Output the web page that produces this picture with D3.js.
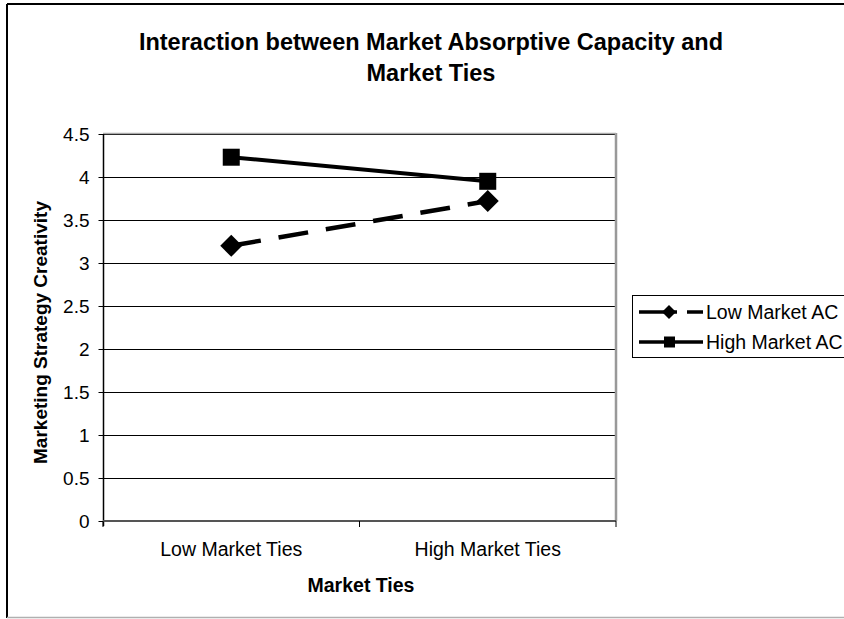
<!DOCTYPE html>
<html><head><meta charset="utf-8">
<script src="https://cdn.jsdelivr.net/npm/d3@7"></script>
<style>body{margin:0;background:#fff}svg{display:block}text{font-family:"Liberation Sans",Arial,sans-serif;fill:#000}</style>
</head><body>
<script>
const categories = ["Low Market Ties", "High Market Ties"];
const seriesNames = ["Low Market AC", "High Market AC"];
const lowMarketAC = [3.20, 3.72];
const highMarketAC = [4.23, 3.95];
const yTicks = [0, 0.5, 1, 1.5, 2, 2.5, 3, 3.5, 4, 4.5];
const yTickLabels = ["0", "0.5", "1", "1.5", "2", "2.5", "3", "3.5", "4", "4.5"];
const titleLines = ["Interaction between Market Absorptive Capacity and", "Market Ties"];
const xTitle = "Market Ties";
const yTitle = "Marketing Strategy Creativity";

const W = 844, H = 619;
const svg = d3.select("body").append("svg").attr("width", W).attr("height", H);

// chart frame
svg.append("line").attr("x1", 7).attr("x2", W).attr("y1", 4).attr("y2", 4).attr("stroke", "#000").attr("stroke-width", 2);
svg.append("line").attr("x1", 7).attr("x2", 7).attr("y1", 4).attr("y2", 618).attr("stroke", "#000").attr("stroke-width", 2);
svg.append("line").attr("x1", 7).attr("x2", W).attr("y1", 617.5).attr("y2", 617.5).attr("stroke", "#b0b0b0").attr("stroke-width", 1.5);

const L = 103, R = 616, T = 134, B = 521;
const x = d3.scaleBand().domain(categories).range([L, R]).padding(0);
const y = d3.scaleLinear().domain([0, 4.5]).range([B, T]);

// gridlines
svg.append("g").selectAll("line").data(yTicks.filter(d => d > 0)).join("line")
  .attr("x1", L).attr("x2", R).attr("y1", d => Math.round(y(d)) + 0.5).attr("y2", d => Math.round(y(d)) + 0.5)
  .attr("stroke", "#000").attr("stroke-width", 1);
// right/top border of plot area
svg.append("line").attr("x1", R).attr("x2", R).attr("y1", T - 1).attr("y2", B).attr("stroke", "#999").attr("stroke-width", 2.5);
svg.append("line").attr("x1", L).attr("x2", R).attr("y1", T - 0.5).attr("y2", T - 0.5).attr("stroke", "#aaa").attr("stroke-width", 1.5);

// y axis
const yAxis = d3.axisLeft(y).tickValues(yTicks).tickFormat((d, i) => yTickLabels[i]).tickSize(5).tickPadding(9);
const gy = svg.append("g").attr("transform", `translate(${L + 0.5},0)`).call(yAxis);
gy.select(".domain").attr("stroke", "#000").attr("stroke-width", 1.5).attr("d", `M0,${T}V${B + 5}`);
gy.selectAll(".tick line").attr("stroke", "#000");
gy.selectAll(".tick text").style("font-size", "19px").attr("font-family", "Liberation Sans, Arial, sans-serif").attr("fill", "#000");

// x axis
const xAxis = d3.axisBottom(x).tickSize(0).tickPadding(21);
const gx = svg.append("g").attr("transform", `translate(0,${B})`).call(xAxis);
gx.select(".domain").attr("stroke", "#555").attr("stroke-width", 2).attr("d", `M${L},0H${R}`);
gx.selectAll(".tick text").style("font-size", "19.5px").attr("font-family", "Liberation Sans, Arial, sans-serif").attr("fill", "#000");
const bounds = [x(categories[0])].concat(categories.map(c => x(c) + x.bandwidth()));
svg.append("g").selectAll("line").data(bounds).join("line")
  .attr("x1", d => d).attr("x2", d => d).attr("y1", B).attr("y2", B + 6).attr("stroke", "#000").attr("stroke-width", 1);

// titles
svg.append("text").attr("x", 431).attr("y", 50).attr("text-anchor", "middle")
  .style("font-size", "23.5px").style("font-weight", "bold").text(titleLines[0]);
svg.append("text").attr("x", 431).attr("y", 81).attr("text-anchor", "middle")
  .style("font-size", "23.5px").style("font-weight", "bold").text(titleLines[1]);
svg.append("text").attr("x", 361).attr("y", 592).attr("text-anchor", "middle")
  .style("font-size", "19.5px").style("font-weight", "bold").text(xTitle);
svg.append("text").attr("transform", `translate(47,${(T + B) / 2 + 5}) rotate(-90)`).attr("text-anchor", "middle")
  .style("font-size", "19px").style("font-weight", "bold").text(yTitle);

// series
const cx = c => x(c) + x.bandwidth() / 2;
const lineGen = d3.line().x(d => cx(d.c)).y(d => y(d.v));
const lowData = categories.map((c, i) => ({c, v: lowMarketAC[i]}));
const highData = categories.map((c, i) => ({c, v: highMarketAC[i]}));

svg.append("path").datum(highData).attr("d", lineGen).attr("fill", "none").attr("stroke", "#000").attr("stroke-width", 4);
svg.append("path").datum(lowData).attr("d", lineGen).attr("fill", "none").attr("stroke", "#000").attr("stroke-width", 4.5)
  .attr("stroke-dasharray", "30,18");

const sq = 17;
svg.append("g").selectAll("rect").data(highData).join("rect")
  .attr("x", d => cx(d.c) - sq / 2).attr("y", d => y(d.v) - sq / 2).attr("width", sq).attr("height", sq).attr("fill", "#000");
const diamond = r => `M0,${-r}L${r},0L0,${r}L${-r},0Z`;
svg.append("g").selectAll("path").data(lowData).join("path")
  .attr("d", diamond(11)).attr("transform", d => `translate(${cx(d.c)},${y(d.v)})`).attr("fill", "#000");

// legend
const lg = svg.append("g");
lg.append("rect").attr("x", 632.5).attr("y", 295.5).attr("width", 230).attr("height", 62).attr("fill", "#fff").attr("stroke", "#000").attr("stroke-width", 1);
const rows = [
  {name: seriesNames[0], yy: 312, dash: "38,10,14,0", marker: "diamond"},
  {name: seriesNames[1], yy: 342, dash: null, marker: "square"}
];
rows.forEach(r => {
  const ln = lg.append("line").attr("x1", 639).attr("x2", 703).attr("y1", r.yy).attr("y2", r.yy).attr("stroke", "#000").attr("stroke-width", 3.5);
  if (r.dash) ln.attr("stroke-dasharray", r.dash);
  if (r.marker === "diamond") lg.append("path").attr("d", diamond(7)).attr("transform", `translate(669,${r.yy})`).attr("fill", "#000");
  else lg.append("rect").attr("x", 664).attr("y", r.yy - 5.5).attr("width", 11).attr("height", 11).attr("fill", "#000");
  lg.append("text").attr("x", 706).attr("y", r.yy + 7).style("font-size", "19.5px").text(r.name);
});
</script>
</body></html>
